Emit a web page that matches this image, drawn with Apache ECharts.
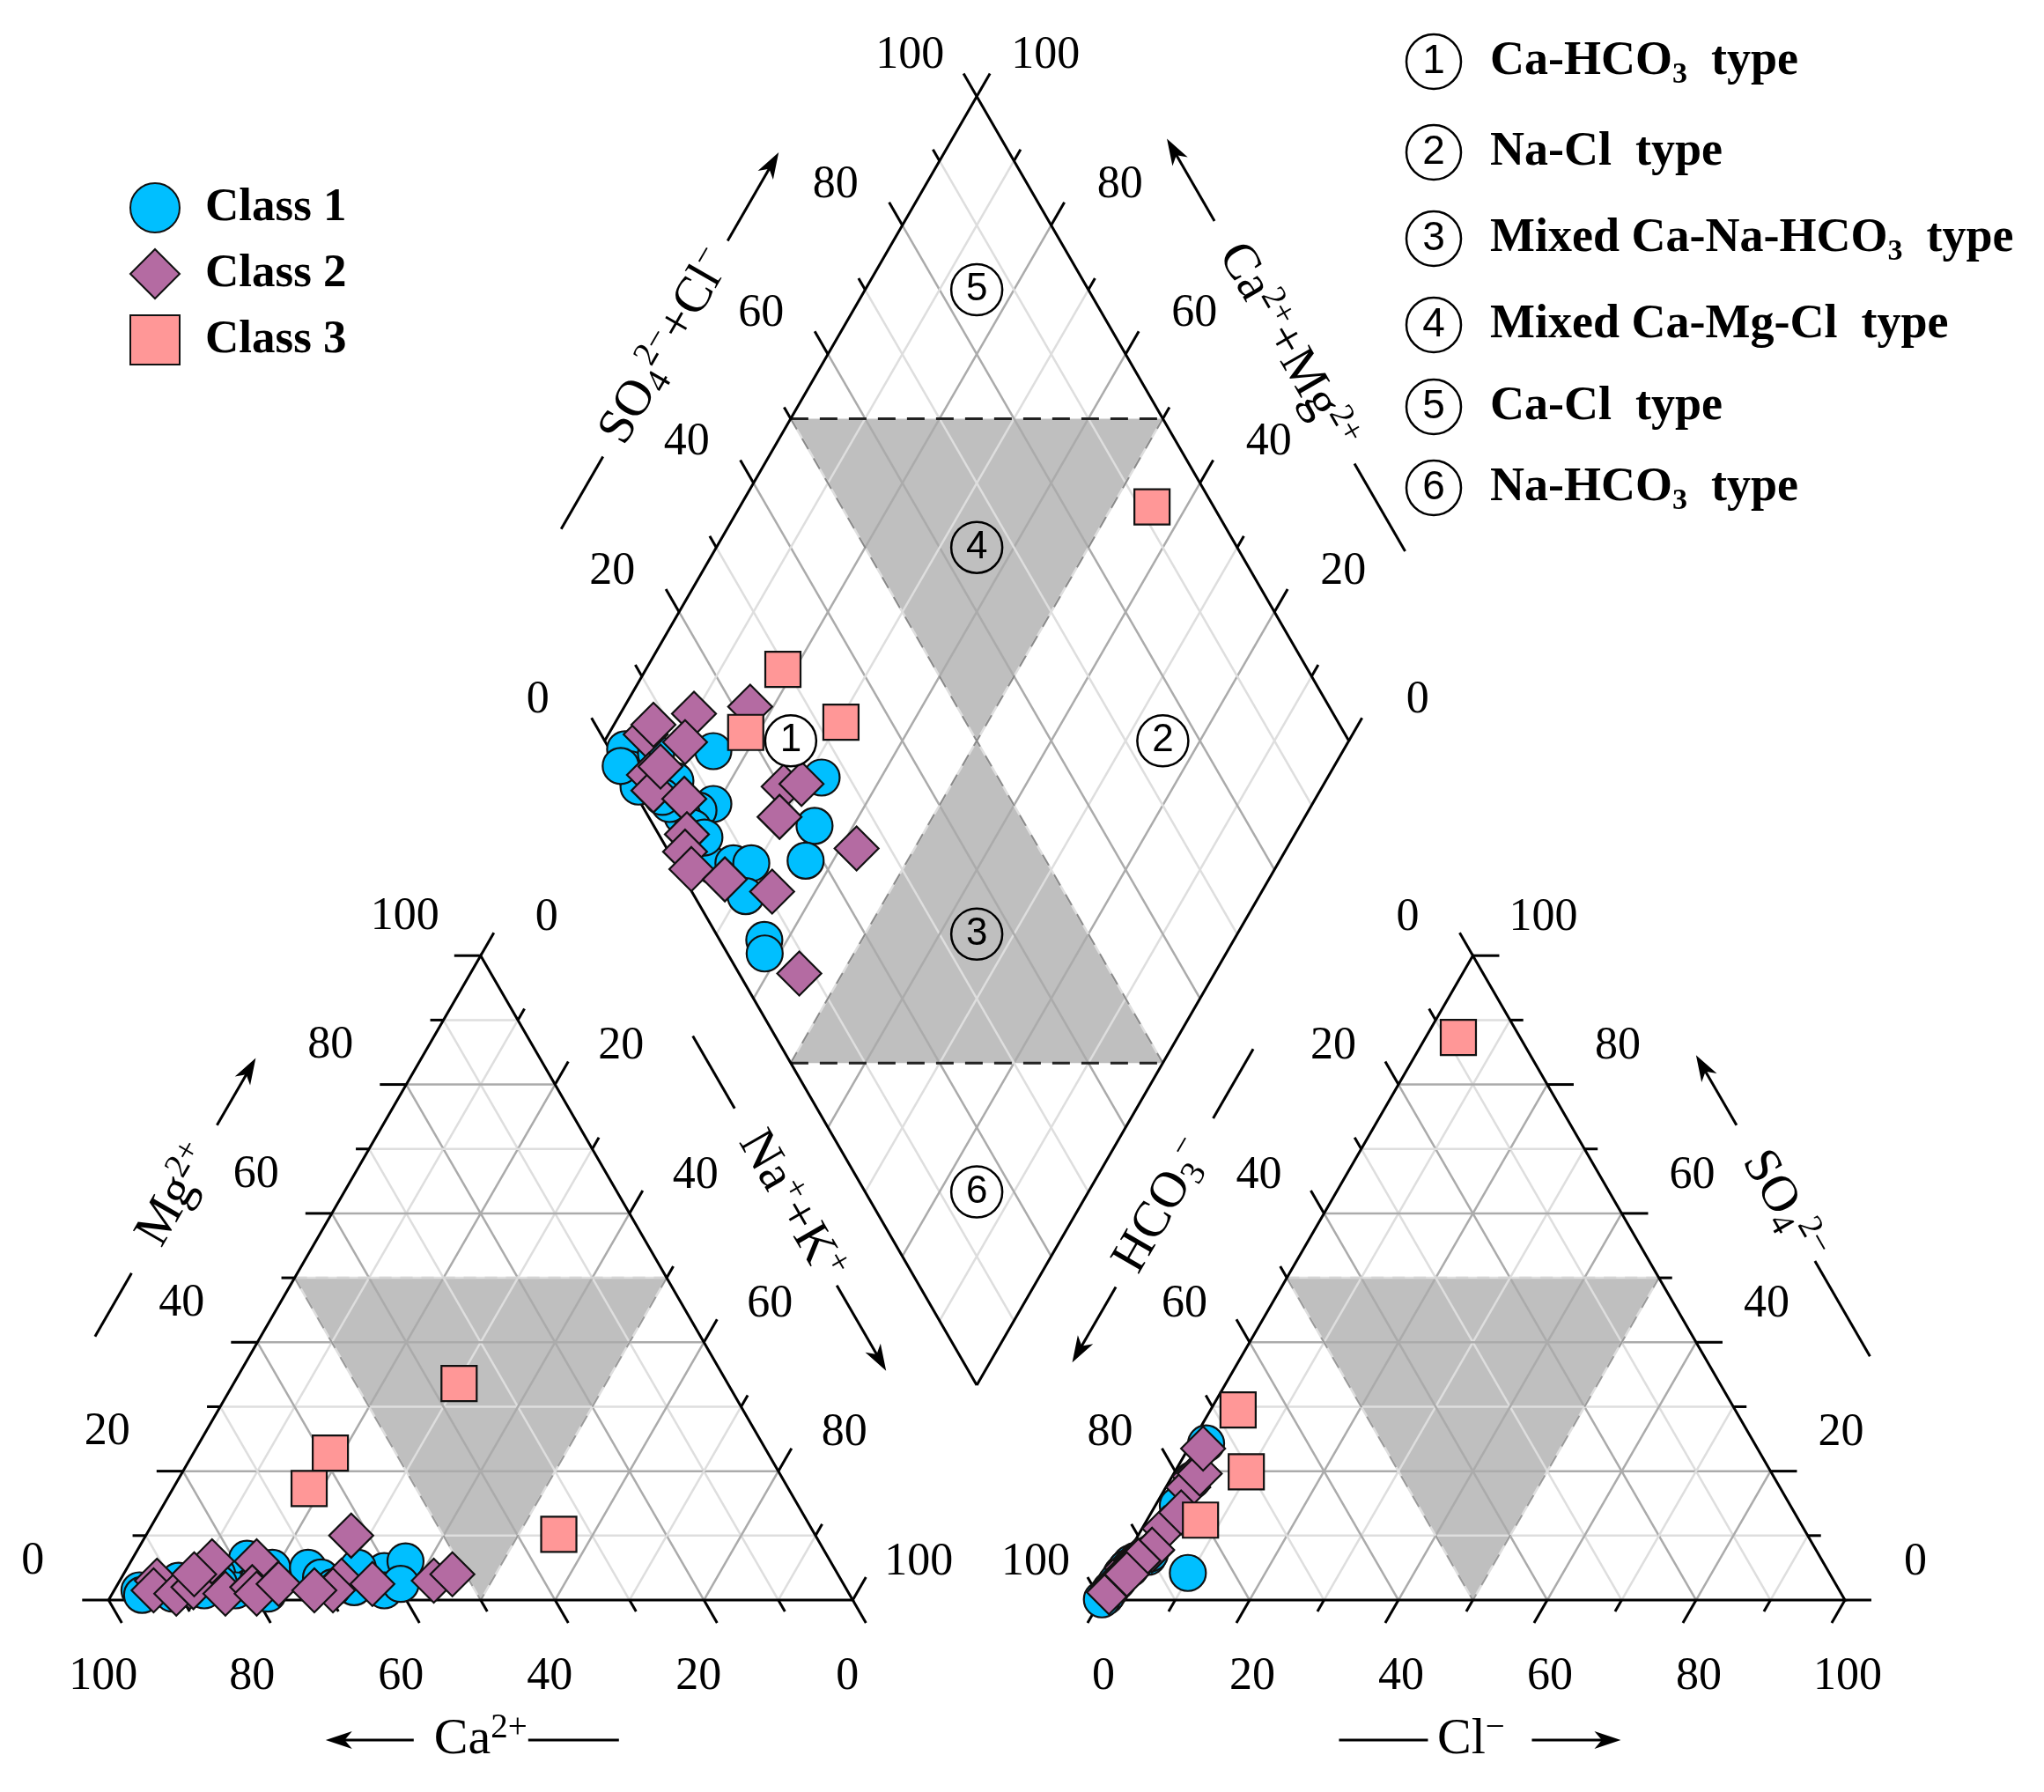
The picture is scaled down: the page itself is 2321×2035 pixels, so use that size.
<!DOCTYPE html>
<html><head><meta charset="utf-8">
<script src="https://cdn.jsdelivr.net/npm/echarts@6/dist/echarts.min.js"></script>
<style>html,body{margin:0;padding:0;background:#fff}#c{width:2321px;height:2035px}</style>
</head><body><div id="c"></div>
<script>
// ================= DATA (percent of meq) =================
// cations: [Ca2+, Mg2+, Na+ + K+]     anions: [HCO3-, SO4 2-, Cl-]
const class1Cations = [
  [95.1,1.5,3.4],[92.4,2.0,5.6],[90.9,1.0,8.1],[89.1,3.0,7.9],[78.2,6.4,15.4],[66.0,2.0,32.0],
  [83.4,4.0,12.6],[75.5,5.0,19.5],[80.0,2.0,18.0],[82.2,1.5,16.3],[78.4,3.0,18.6],[60.7,4.5,34.8],
  [62.2,1.5,36.3],[70.7,5.0,24.3],[69.7,3.5,26.8],[68.8,2.0,29.2],[64.0,5.0,31.0],[57.1,6.0,36.9],
  [59.5,2.5,38.0],[95.1,0.8,4.1],[83.9,2.5,13.6],[78.1,1.0,20.9],[86.4,1.5,12.1]
];
const class1Anions = [
  [97.9,1.6,0.5],[98.8,0.8,0.4],[99.0,0.6,0.4],[94.1,4.9,1.0],[86.2,4.2,9.6],[73.7,24.3,2.0],
  [93.6,4.9,1.5],[90.3,6.7,3.0],[92.8,5.6,1.6],[95.4,3.8,0.8],[94.9,4.1,1.0],[78.4,18.6,3.0],
  [82.3,14.7,3.0],[95.1,4.1,0.8],[92.2,6.1,1.7],[89.8,7.2,3.0],[93.1,5.7,1.2],[94.0,4.8,1.2],
  [95.0,4.0,1.0],[99.8,0.1,0.1],[96.2,3.0,0.8],[94.1,4.9,1.0],[96.6,2.7,0.7]
];
const class2Cations = [
  [88.1,2.0,9.9],[77.1,6.0,16.9],[92.0,3.0,5.0],[93.2,1.5,5.3],[83.1,6.0,10.9],[90.4,1.0,8.6],
  [87.6,2.0,10.4],[83.8,1.0,15.2],[62.4,10.0,27.6],[67.2,3.0,29.8],[69.1,1.5,29.4],[54.8,3.0,42.2],
  [79.7,2.0,18.3],[79.6,1.0,19.4],[75.9,2.5,21.6],[71.6,1.5,26.9],[63.3,2.5,34.2],[51.8,4.0,44.2],
  [86.5,4.0,9.5]
];
const class2Anions = [
  [85.9,11.1,3.0],[77.8,19.2,3.0],[94.0,5.0,1.0],[92.2,6.1,1.7],[89.3,7.7,3.0],[96.7,2.6,0.7],
  [97.3,2.1,0.6],[93.8,4.7,1.5],[79.5,17.5,3.0],[76.9,19.6,3.5],[82.4,13.6,4.0],[74.5,23.5,2.0],
  [96.2,3.0,0.8],[97.8,1.6,0.6],[98.3,1.2,0.5],[94.6,4.0,1.4],[89.2,7.8,3.0],[91.9,6.1,2.0],
  [94.5,4.0,1.5]
];
const class3Cations = [[58.8,22.8,18.4],[64.4,17.3,18.3],[36.1,33.6,30.3],[34.4,10.2,55.4]];
const class3Anions  = [[70.5,19.9,9.6],[80.4,12.4,7.2],[66.8,29.5,3.7],[8.3,87.3,4.4]];
const classNames = ['Class 1','Class 2','Class 3'];
const tickLabels = [0,20,40,60,80,100];
const waterTypes = [
  '{b|Ca-HCO}{bs|3}{b|  type}',
  '{b|Na-Cl  type}',
  '{b|Mixed Ca-Na-HCO}{bs|3}{b|  type}',
  '{b|Mixed Ca-Mg-Cl  type}',
  '{b|Ca-Cl  type}',
  '{b|Na-HCO}{bs|3}{b|  type}'
];
// positions of the zone numbers inside the diamond, as (SO4+Cl, Ca+Mg) fractions
const zoneAnchors = [[0.25,0.75],[0.75,0.25],[0.35,0.35],[0.65,0.65],[0.85,0.85],[0.15,0.15]];

// ================= GEOMETRY =================
const W = 2321, H = 2035;
const SQ3 = Math.sqrt(3);
const SIDE = 845, TH = SIDE * SQ3 / 2, BASE_Y = 1817, X0 = 123.3;
const CAT = {L:[X0,BASE_Y], R:[X0+SIDE,BASE_Y], T:[X0+SIDE/2,BASE_Y-TH]};
const GAP = SIDE/3;
const AX0 = CAT.R[0] + GAP;
const AN = {L:[AX0,BASE_Y], R:[AX0+SIDE,BASE_Y], T:[AX0+SIDE/2,BASE_Y-TH]};
const DB = [(CAT.R[0]+AX0)/2, BASE_Y - GAP*SQ3/2];

function bary(tri,l,r,t){const s=l+r+t;return[(tri.L[0]*l+tri.R[0]*r+tri.T[0]*t)/s,(tri.L[1]*l+tri.R[1]*r+tri.T[1]*t)/s];}
function catPt(c){return bary(CAT,c[0],c[2],c[1]);}        // Ca left, Na+K right, Mg top
function anPt(a){return bary(AN,a[0],a[2],a[1]);}          // HCO3 left, Cl right, SO4 top
function diaPt(u,v){return[DB[0]+SIDE/2*(u-v),DB[1]-TH*(u+v)];}
function diaSample(c,a){const v=(c[0]+c[1])/(c[0]+c[1]+c[2]);const u=(a[1]+a[2])/(a[0]+a[1]+a[2]);return diaPt(u,v);}

// ================= SHAPES =================
const back=[], front=[];
const SERIF='"Liberation Serif","Times New Roman",serif';
function ln(arr,p,stroke,w,dash){arr.push({t:'line',p:p,s:{stroke:stroke,lineWidth:w,lineDash:dash||null,fill:null,lineCap:'butt'}});}
function poly(arr,p,fill){arr.push({t:'poly',p:p,s:{fill:fill}});}
function txt(arr,p,style,rot){arr.push({t:'text',p:[p],s:style,rot:rot||0});}
function circ(arr,p,r,style){arr.push({t:'circle',p:[p],r:r,s:style});}
function add(p,v,k){return[p[0]+v[0]*k,p[1]+v[1]*k];}

const GRAY='#bfbfbf', DARK='#ababab', LIGHT='#dedede';
// gray fills
[CAT,AN].forEach(tri=>{
  poly(back,[bary(tri,.5,0,.5),bary(tri,0,.5,.5),bary(tri,.5,.5,0)],GRAY);
});
poly(back,[diaPt(.5,1),diaPt(1,.5),diaPt(.5,.5)],GRAY);
poly(back,[diaPt(0,.5),diaPt(.5,0),diaPt(.5,.5)],GRAY);

// grid lines
for(let k=1;k<=9;k++){
  const f=k/10, col=(k%2===0)?DARK:LIGHT;
  [CAT,AN].forEach(tri=>{
    ln(back,[bary(tri,1-f,0,f),bary(tri,0,1-f,f)],col,2.5);
    ln(back,[bary(tri,f,1-f,0),bary(tri,f,0,1-f)],col,2.5);
    ln(back,[bary(tri,1-f,f,0),bary(tri,0,f,1-f)],col,2.5);
  });
  ln(back,[diaPt(f,0),diaPt(f,1)],col,2.5);
  ln(back,[diaPt(0,f),diaPt(1,f)],col,2.5);
}
// dashed borders of shaded zones
[CAT,AN].forEach(tri=>{
  ln(back,[bary(tri,.5,0,.5),bary(tri,0,.5,.5)],'#d4d4d4',2.5,[14,10]);
  ln(back,[bary(tri,.5,0,.5),bary(tri,.5,.5,0),bary(tri,0,.5,.5)],'#9a9a9a',2,[14,12]);
});
ln(back,[diaPt(.5,1),diaPt(.5,.5),diaPt(1,.5)],'#8a8a8a',2,[14,12]);
ln(back,[diaPt(0,.5),diaPt(.5,.5),diaPt(.5,0)],'#8a8a8a',2,[14,12]);
ln(back,[diaPt(.5,1),diaPt(1,.5)],'#222',3,[20,13]);
ln(back,[diaPt(0,.5),diaPt(.5,0)],'#222',3,[20,13]);

// outlines
[CAT,AN].forEach(tri=>ln(back,[tri.L,tri.R,tri.T,tri.L],'#000',3));
ln(back,[DB,diaPt(1,0),diaPt(1,1),diaPt(0,1),DB],'#000',3);

// ticks
const UL=[-0.5,-SQ3/2], UR=[0.5,-SQ3/2], DR=[0.5,SQ3/2], DL=[-0.5,SQ3/2];
for(let k=0;k<=10;k++){
  const f=k/10, len=(k%2===0)?30:15;
  const tk=(p,d)=>ln(back,[p,add(p,d,len)],'#000',3);
  tk(bary(CAT,1-f,0,f),[-1,0]);      // Mg
  tk(bary(CAT,0,f,1-f),UR);          // Na+K
  tk(bary(CAT,f,1-f,0),DR);          // Ca
  tk(bary(AN,f,0,1-f),UL);           // HCO3
  tk(bary(AN,0,1-f,f),[1,0]);        // SO4
  tk(bary(AN,1-f,f,0),DL);           // Cl
  tk(diaPt(f,1),UL);                 // SO4+Cl
  tk(diaPt(1,f),UR);                 // Ca+Mg
}
// tick labels
const numStyle=t=>({text:String(t),font:'52px '+SERIF,fill:'#000',align:'center',verticalAlign:'middle'});
tickLabels.forEach(t=>{
  const f=t/100;
  txt(back,add(bary(CAT,1-f,0,f),[-86,-44],1),numStyle(t));
  txt(back,add(bary(CAT,0,f,1-f),[75,-43],1),numStyle(t));
  txt(back,add(bary(CAT,f,1-f,0),[-6,87],1),numStyle(t));
  txt(back,add(bary(AN,f,0,1-f),[-74,-43],1),numStyle(t));
  txt(back,add(bary(AN,0,1-f,f),[80,-43],1),numStyle(t));
  txt(back,add(bary(AN,1-f,f,0),[3,87],1),numStyle(t));
  txt(back,add(diaPt(f,1),[-76,-46],1),numStyle(t));
  txt(back,add(diaPt(1,f),[78,-46],1),numStyle(t));
});

// axis titles
const titleRich={
  m:{fontFamily:SERIF,fontSize:58,lineHeight:66,fill:'#000'},
  sup:{fontFamily:SERIF,fontSize:39,lineHeight:39,verticalAlign:'top',fill:'#000'},
  sub:{fontFamily:SERIF,fontSize:39,lineHeight:39,verticalAlign:'bottom',fill:'#000'}
};
function arrowHead(arr,tip,d){
  const L=30,w=10,px=[-d[1],d[0]];
  const b=add(tip,d,-L);
  poly(arr,[tip,add(b,px,w),add(tip,d,-L*0.72),add(b,px,-w)],'#000');
}
function title(edgeA,edgeB,normal,rot,text,lineT,arrowT,offs){
  const mid=[(edgeA[0]+edgeB[0])/2,(edgeA[1]+edgeB[1])/2];
  let d=[edgeB[0]-edgeA[0],edgeB[1]-edgeA[1]];const n=Math.hypot(d[0],d[1]);d=[d[0]/n,d[1]/n];
  const c=add(add(mid,normal,163),d,offs||0);
  txt(back,c,{text:text,rich:titleRich,align:'center',verticalAlign:'middle'},rot);
  ln(back,[add(c,d,lineT[0]),add(c,d,lineT[1])],'#000',3);
  const a0=add(c,d,arrowT[0]),a1=add(c,d,arrowT[1]);
  const s=Math.sign(arrowT[1]-arrowT[0]);
  ln(back,[a0,add(a1,d,-s*20)],'#000',3);
  arrowHead(back,a1,[d[0]*s,d[1]*s]);
}
const NL=[-SQ3/2,-0.5], NR=[SQ3/2,-0.5];
title(CAT.L,CAT.T,NL,Math.PI/3,'{m|Mg}{sup|2+}',[-185,-102],[92,180],14);
title(CAT.T,CAT.R,NR,-Math.PI/3,'{m|Na}{sup|+}{m|+K}{sup|+}',[-223,-128],[104,216]);
title(AN.L,AN.T,NL,Math.PI/3,'{m|HCO}{sub|3}{sup|−}',[115,206],[-106,-205]);
title(AN.T,AN.R,NR,-Math.PI/3,'{m|SO}{sub|4}{sup|2−}',[72,197],[-106,-198]);
title(diaPt(0,1),diaPt(1,1),NL,Math.PI/3,'{m|SO}{sub|4}{sup|2−}{m|+Cl}{sup|−}',[-239,-144],[139,255]);
title(diaPt(1,1),diaPt(1,0),NR,-Math.PI/3,'{m|Ca}{sup|2+}{m|+Mg}{sup|2+}',[153,268],[-165,-273]);
// bottom titles
(function(){
  const yb=BASE_Y+159;
  const cc=[CAT.T[0],yb];
  txt(back,cc,{text:'{m|Ca}{sup|2+}',rich:titleRich,align:'center',verticalAlign:'middle'});
  ln(back,[add(cc,[1,0],54),add(cc,[1,0],157)],'#000',3);
  ln(back,[add(cc,[1,0],-76),add(cc,[1,0],-156)],'#000',3);
  arrowHead(back,add(cc,[1,0],-176),[-1,0]);
  const ac=[AN.T[0]-2,yb];
  txt(back,ac,{text:'{m|Cl}{sup|−}',rich:titleRich,align:'center',verticalAlign:'middle'});
  ln(back,[add(ac,[1,0],-150),add(ac,[1,0],-49)],'#000',3);
  ln(back,[add(ac,[1,0],69),add(ac,[1,0],150)],'#000',3);
  arrowHead(back,add(ac,[1,0],170),[1,0]);
})();

// zone numbers in the diamond (front)
zoneAnchors.forEach((z,i)=>{
  const p=diaPt(z[0],z[1]);
  const onGray=(i===2||i===3);
  circ(front,p,29,{fill:onGray?null:'#fff',stroke:'#000',lineWidth:2.5});
  txt(front,p,{text:String(i+1),font:'44px "Liberation Sans",Arial,sans-serif',fill:'#000',align:'center',verticalAlign:'middle'});
});
// water type list (top right)
const typeY=[70,173,271,369,462,554];
waterTypes.forEach((t,i)=>{
  const p=[1628,typeY[i]];
  circ(front,p,31,{fill:null,stroke:'#000',lineWidth:2.5});
  txt(front,p,{text:String(i+1),font:'46px "Liberation Sans",Arial,sans-serif',fill:'#000',align:'center',verticalAlign:'middle'});
  txt(front,[1692,typeY[i]],{text:t,align:'left',verticalAlign:'middle',rich:{
    b:{fontFamily:SERIF,fontWeight:'bold',fontSize:54,lineHeight:64,fill:'#000'},
    bs:{fontFamily:SERIF,fontWeight:'bold',fontSize:34,lineHeight:34,verticalAlign:'bottom',fill:'#000'}}});
});

// ================= SCATTER DATA =================
function pts(cs,as){const out=[];cs.forEach((c,i)=>{out.push(catPt(c));out.push(anPt(as[i]));out.push(diaSample(c,as[i]));});return out;}

function render(list){
  return function(params,api){
    const sh=list[params.dataIndex];
    const p=sh.p.map(q=>api.coord(q));
    if(sh.t==='line')return{type:'polyline',silent:true,shape:{points:p},style:sh.s};
    if(sh.t==='poly')return{type:'polygon',silent:true,shape:{points:p},style:sh.s};
    if(sh.t==='circle')return{type:'circle',silent:true,shape:{cx:p[0][0],cy:p[0][1],r:sh.r},style:sh.s};
    return{type:'text',silent:true,x:p[0][0],y:p[0][1],rotation:sh.rot,style:Object.assign({x:0,y:0},sh.s)};
  };
}
const chart=echarts.init(document.getElementById('c'),null,{renderer:'canvas'});
const sc=(name,data,symbol,size,color,z)=>({name:name,type:'scatter',data:data,symbol:symbol,symbolSize:size,z:z,
  itemStyle:{color:color,borderColor:'#111',borderWidth:2.2,opacity:1},emphasis:{disabled:true},silent:true});
chart.setOption({
  animation:false,
  backgroundColor:'#fff',
  grid:{left:0,right:0,top:0,bottom:0},
  xAxis:{type:'value',min:0,max:W,show:false},
  yAxis:{type:'value',min:0,max:H,inverse:true,show:false},
  legend:{orient:'vertical',left:142,top:202,itemWidth:56,itemHeight:56,itemGap:17,selectedMode:false,
    data:classNames,textStyle:{fontFamily:SERIF,fontWeight:'bold',fontSize:53,color:'#000',lineHeight:56,padding:[0,0,0,24]}},
  series:[
    {type:'custom',name:'frame',z:1,clip:false,silent:true,renderItem:render(back),encode:{x:0,y:1},
      data:back.map((s,i)=>[s.p[0][0],s.p[0][1],i])},
    sc(classNames[0],pts(class1Cations,class1Anions),'circle',41,'#00BFFF',3),
    sc(classNames[1],pts(class2Cations,class2Anions),'diamond',[50,50],'#B46BA2',4),
    sc(classNames[2],pts(class3Cations,class3Anions),'rect',40,'#FF9797',5),
    {type:'custom',name:'labels',z:8,clip:false,silent:true,renderItem:render(front),encode:{x:0,y:1},
      data:front.map((s,i)=>[s.p[0][0],s.p[0][1],i])}
  ]
});
</script></body></html>
